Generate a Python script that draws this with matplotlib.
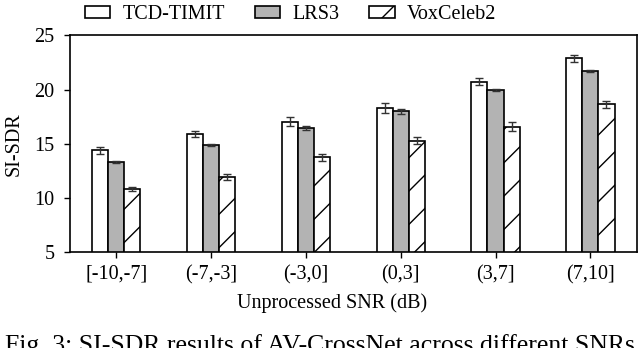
import numpy as np
import matplotlib
matplotlib.use("Agg")
import matplotlib.pyplot as plt

# SNR bins and SI-SDR values
snr_bins = ['[-10,-7]', '(-7,-3]', '(-3,0]', '(0,3]', '(3,7]', '(7,10]']
tcd_timit = [14.4, 15.9, 17.05, 18.3, 20.75, 22.9]
lrs3 = [13.35, 14.9, 16.45, 18.0, 19.95, 21.75]
voxceleb2 = [10.85, 11.95, 13.75, 15.3, 16.6, 18.65]
tcd_err = [0.3, 0.3, 0.4, 0.45, 0.3, 0.3]
lrs3_err = [0.1, 0.1, 0.2, 0.2, 0.1, 0.1]
vox_err = [0.2, 0.25, 0.35, 0.35, 0.45, 0.35]

plt.rcParams['font.family'] = ['Liberation Serif', 'DejaVu Serif']
plt.rcParams['font.size'] = 14.5
plt.rcParams['hatch.linewidth'] = 1.0

fig = plt.figure(figsize=(6.4, 3.48), dpi=100)
ax = fig.add_axes([0.109, 0.275, 0.886, 0.623])

x = np.arange(len(snr_bins))
w = 0.17
err_kw = dict(ecolor='#333333', capsize=3, elinewidth=1.0, capthick=1.0)

ax.bar(x - w, tcd_timit, w, yerr=tcd_err, color='white', edgecolor='black',
       linewidth=1.2, label='TCD-TIMIT', error_kw=err_kw)
ax.bar(x, lrs3, w, yerr=lrs3_err, color='#b3b3b3', edgecolor='black',
       linewidth=1.2, label='LRS3', error_kw=err_kw)
ax.bar(x + w, voxceleb2, w, yerr=vox_err, color='white', edgecolor='black',
       linewidth=1.2, hatch='/', label='VoxCeleb2', error_kw=err_kw)

ax.set_xlim(-0.49, 5.49)
ax.set_ylim(5, 25)
ax.set_yticks([5, 10, 15, 20, 25])
ax.set_xticks(x)
ax.set_xticklabels(snr_bins)
ax.tick_params(axis='y', direction='out', length=4, width=1, pad=7)
ax.tick_params(axis='x', direction='out', length=4, width=1, pad=5)
for s in ax.spines.values():
    s.set_linewidth(1.2)

ax.set_ylabel('SI-SDR', labelpad=8)
ax.set_xlabel('Unprocessed SNR (dB)', labelpad=8)
ax.xaxis.set_label_coords(0.462, -0.19)

fig.legend(loc='upper center', bbox_to_anchor=(0.454, 1.037), ncol=3,
           frameon=False, handlelength=1.25, handleheight=0.55,
           handletextpad=0.6, columnspacing=1.5)

fig.text(0.008, 0.04, 'Fig. 3: SI-SDR results of AV-CrossNet across different SNRs',
         ha='left', va='top', fontsize=18.5)

fig.savefig('out.png', dpi=100)
